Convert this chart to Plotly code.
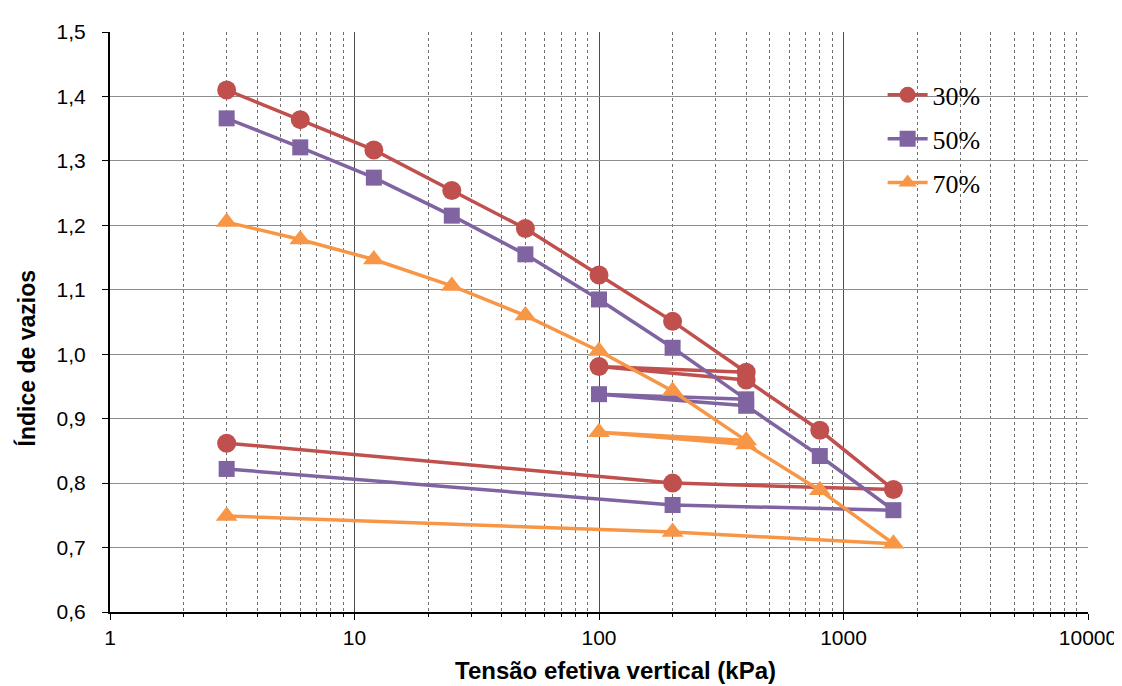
import plotly.graph_objects as go

# Tensão efetiva vertical (kPa) - loading / unloading / reloading path
stress = [3, 6, 12, 25, 50, 100, 200, 400, 100, 400, 800, 1600, 200, 3]

e_30 = [1.410, 1.364, 1.317, 1.254, 1.195, 1.123, 1.051, 0.972, 0.981, 0.960, 0.882, 0.790, 0.800, 0.862]
e_50 = [1.366, 1.321, 1.274, 1.215, 1.155, 1.085, 1.010, 0.930, 0.938, 0.920, 0.842, 0.758, 0.766, 0.822]
e_70 = [1.205, 1.178, 1.147, 1.106, 1.060, 1.005, 0.943, 0.866, 0.879, 0.860, 0.789, 0.706, 0.724, 0.749]

series_names = ["30%", "50%", "70%"]
colors = ["#C0504D", "#8064A2", "#F79646"]
symbols = ["circle", "square", "triangle-up"]
msizes = [19, 16, 19]

x_tickvals = [1, 10, 100, 1000, 10000]
x_ticktext = ["1", "10", "100", "1000", "10000"]
x_minor = [m * d for d in [1, 10, 100, 1000] for m in range(2, 10)]
y_tickvals = [0.6, 0.7, 0.8, 0.9, 1.0, 1.1, 1.2, 1.3, 1.4, 1.5]
y_ticktext = ["0,6", "0,7", "0,8", "0,9", "1,0", "1,1", "1,2", "1,3", "1,4", "1,5"]

fig = go.Figure()
for name, ys, c, s, ms in zip(series_names, [e_30, e_50, e_70], colors, symbols, msizes):
    fig.add_trace(go.Scatter(
        x=stress, y=ys, mode="lines+markers",
        name='<span style="font-family:Liberation Serif,Times New Roman,serif">' + name + '</span>',
        legendgroup=name,
        line=dict(color=c, width=3.5),
        marker=dict(symbol=s, size=ms, color=c),
    ))

fig.add_shape(type="rect", xref="paper", yref="paper", x0=0.721, x1=0.956, y0=0.69, y1=0.921,
              fillcolor="white", line=dict(width=0), layer="between")

fig.add_annotation(text="<b>Índice de vazios</b>", xref="paper", yref="paper",
                   x=-0.085, y=0.437, xanchor="center", yanchor="middle", textangle=-90,
                   showarrow=False, font=dict(family="Liberation Sans", size=23, color="black"))
fig.add_annotation(text="<b>Tensão efetiva vertical (kPa)</b>", xref="paper", yref="paper",
                   x=0.517, y=-0.1017, xanchor="center", yanchor="middle",
                   showarrow=False, font=dict(family="Liberation Sans", size=24, color="black"))

fig.update_layout(
    width=1122, height=686,
    margin=dict(l=102, r=42, t=14, b=82),
    paper_bgcolor="white", plot_bgcolor="white",
    showlegend=True,
    legend=dict(x=0.79, y=0.932, xanchor="left", yanchor="top",
                bgcolor="rgba(0,0,0,0)",
                font=dict(family="Liberation Serif", size=26, color="black"),
                tracegroupgap=7, itemwidth=40),
    font=dict(family="Liberation Sans", color="black"),
)

fig.update_xaxes(
    type="log", range=[0, 4],
    tickvals=x_tickvals, ticktext=x_ticktext,
    tickfont=dict(size=21), ticks="outside", ticklen=6, tickcolor="black",
    showline=True, linecolor="black", linewidth=2,
    showgrid=True, gridcolor="#4d4d4d", gridwidth=1,
    minor=dict(tickvals=x_minor, showgrid=True, gridcolor="#6f6f6f", griddash="dot", gridwidth=1,
               ticks="outside", ticklen=3, tickcolor="black"),
    zeroline=False,
)
fig.update_yaxes(
    range=[0.6, 1.5],
    tickvals=y_tickvals, ticktext=y_ticktext,
    tickfont=dict(size=21), ticks="outside", ticklen=6, tickcolor="black",
    ticklabelstandoff=12,
    showline=True, linecolor="black", linewidth=2,
    showgrid=True, gridcolor="#8c8c8c", gridwidth=1,
    zeroline=False,
)

fig.write_html("out.html")
